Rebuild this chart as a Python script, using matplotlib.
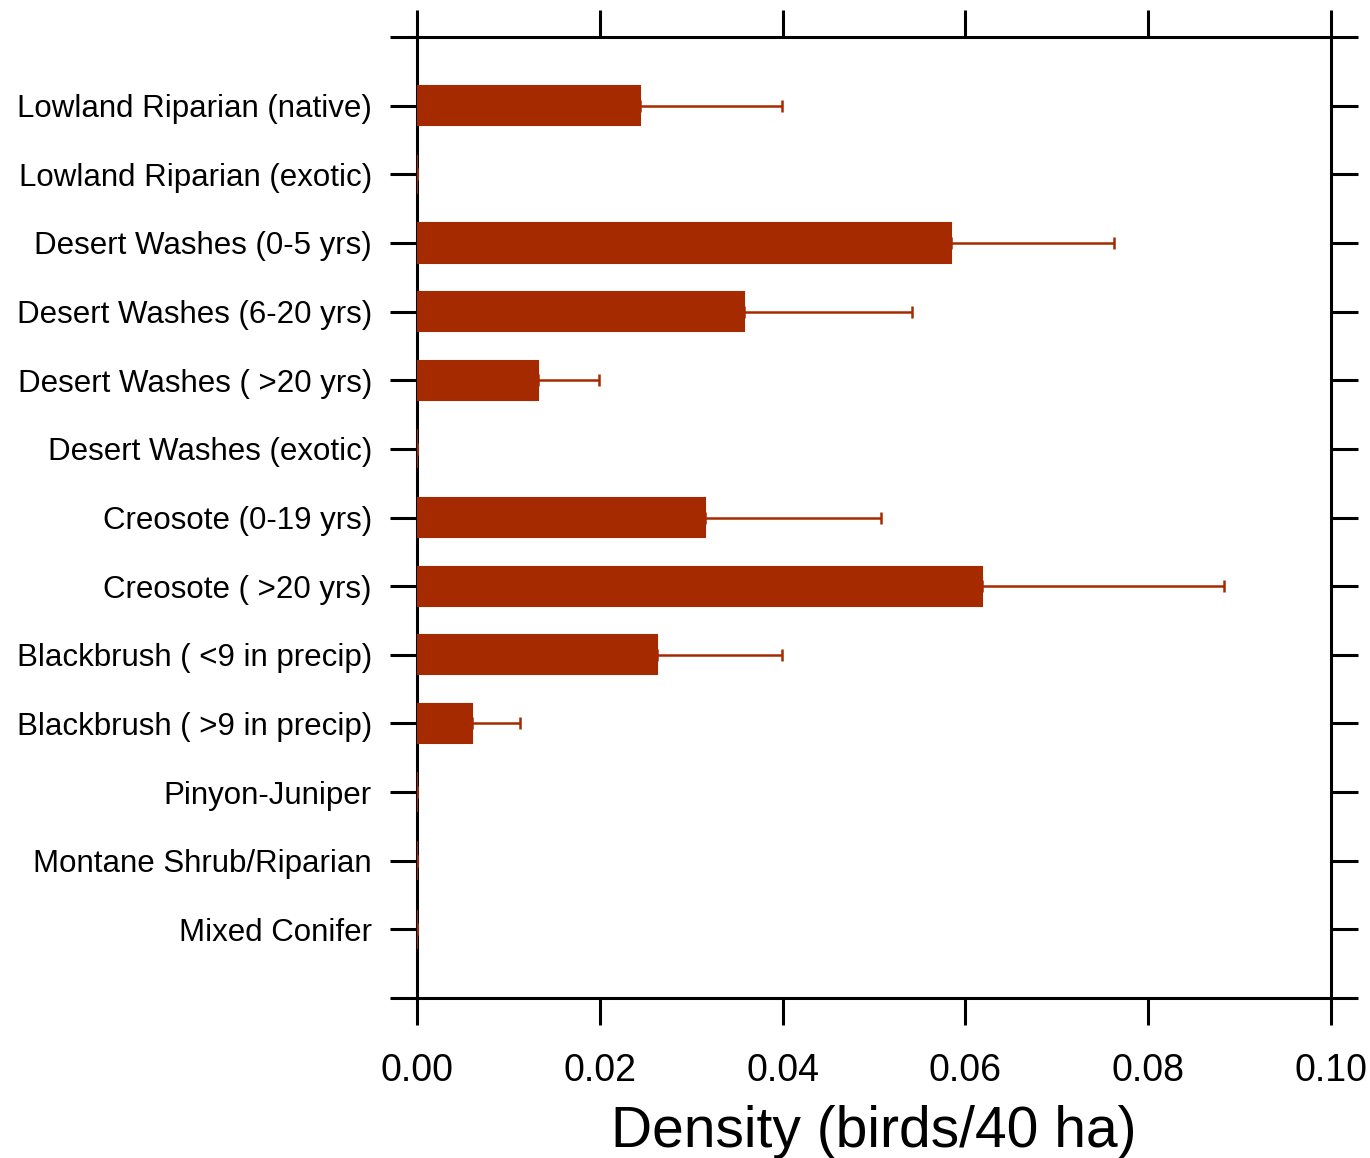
import numpy as np
import matplotlib
matplotlib.use('Agg')
import matplotlib.pyplot as plt

plt.rcParams['font.family'] = ['Liberation Sans', 'DejaVu Sans']

habitats = ['Lowland Riparian (native)', 'Lowland Riparian (exotic)',
            'Desert Washes (0-5 yrs)', 'Desert Washes (6-20 yrs)',
            'Desert Washes ( >20 yrs)', 'Desert Washes (exotic)',
            'Creosote (0-19 yrs)', 'Creosote ( >20 yrs)',
            'Blackbrush ( <9 in precip)', 'Blackbrush ( >9 in precip)',
            'Pinyon-Juniper', 'Montane Shrub/Riparian', 'Mixed Conifer']
density = [0.0244, 0.0, 0.0584, 0.0358, 0.0132, 0.0, 0.0315, 0.0618,
           0.0263, 0.0060, 0.0, 0.0, 0.0]
upper_err = [0.0155, 0.0, 0.0179, 0.0184, 0.0067, 0.0, 0.0193, 0.0265,
             0.0136, 0.0053, 0.0, 0.0, 0.0]
xticks = [0.00, 0.02, 0.04, 0.06, 0.08, 0.10]

col = '#A52A00'
pos = np.arange(len(habitats))

fig = plt.figure(figsize=(13.7, 11.58), dpi=100)
ax = fig.add_axes([0.3044, 0.1382, 0.6671, 0.8298])

ax.barh(pos, density, height=0.57, color=col, edgecolor=col, linewidth=1.5, zorder=3)
ax.errorbar(density, pos, xerr=[np.zeros(len(pos)), upper_err], fmt='none',
            ecolor=col, elinewidth=1.8, capsize=4.5, capthick=1.8, zorder=3)

ax.set_xlim(0, 0.10)
ax.set_ylim(len(habitats), -1)
ax.set_xticks(xticks)
ax.set_xticklabels(['%.2f' % v for v in xticks])
ax.set_yticks(np.arange(-1, len(habitats) + 1))
ax.set_yticklabels([''] + habitats + [''])

for s in ax.spines.values():
    s.set_linewidth(2.2)
ax.tick_params(axis='both', direction='out', length=19.5, width=2.2,
               top=True, right=True, labeltop=False, labelright=False)
ax.tick_params(axis='x', labelsize=27, pad=20)
ax.tick_params(axis='y', labelsize=22.5, pad=13)
ax.set_xlabel('Density (birds/40 ha)', fontsize=41, labelpad=12)

fig.savefig('out.png', dpi=100, facecolor='white')
